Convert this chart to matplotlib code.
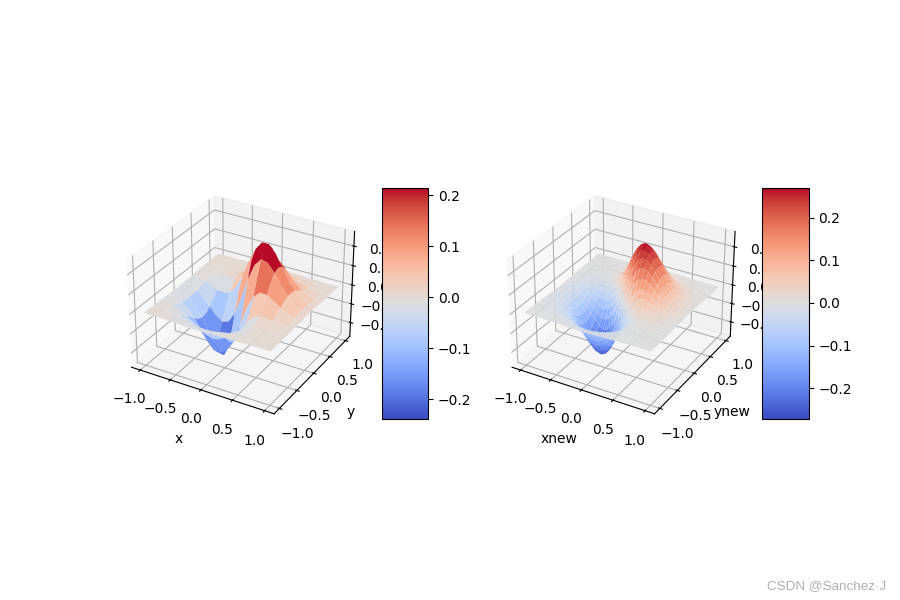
import numpy as np
import matplotlib
matplotlib.use('Agg')
import matplotlib.pyplot as plt
from matplotlib import cm

x = np.linspace(-1, 1, 20)
y = np.linspace(-1, 1, 20)
z_milli = [
    [0, 0, -1, -1, -2, -3, -5, -6, -7, -7, -6, -5, -4, -2, -1, -1, 0, 0, 0, 0],
    [0, -1, -1, -3, -5, -8, -12, -15, -17, -17, -15, -12, -8, -5, -2, -1, 0, 0, 0, 0],
    [-1, -1, -3, -6, -11, -18, -26, -33, -37, -37, -32, -25, -17, -9, -5, -2, 0, 0, 0, 0],
    [-1, -3, -6, -13, -23, -36, -51, -64, -72, -70, -60, -45, -29, -15, -7, -2, 0, 0, 0, 0],
    [-2, -5, -11, -23, -40, -64, -90, -111, -122, -117, -97, -70, -42, -20, -6, 0, 2, 2, 1, 1],
    [-3, -8, -18, -36, -64, -100, -139, -169, -181, -169, -135, -91, -48, -17, 0, 6, 7, 5, 2, 1],
    [-5, -12, -26, -51, -90, -139, -189, -227, -236, -210, -158, -94, -38, 0, 17, 20, 15, 9, 5, 2],
    [-6, -15, -33, -64, -111, -169, -227, -263, -263, -220, -147, -66, 0, 38, 48, 42, 29, 17, 8, 4],
    [-7, -17, -37, -72, -122, -181, -236, -263, -246, -183, -92, 0, 66, 94, 91, 70, 45, 25, 12, 5],
    [-7, -17, -37, -70, -117, -169, -210, -220, -183, -102, 0, 92, 147, 158, 135, 97, 60, 32, 15, 6],
    [-6, -15, -32, -60, -97, -135, -158, -147, -92, 0, 102, 183, 220, 210, 169, 117, 70, 37, 17, 7],
    [-5, -12, -25, -45, -70, -91, -94, -66, 0, 92, 183, 246, 263, 236, 181, 122, 72, 37, 17, 7],
    [-4, -8, -17, -29, -42, -48, -38, 0, 66, 147, 220, 263, 263, 227, 169, 111, 64, 33, 15, 6],
    [-2, -5, -9, -15, -20, -17, 0, 38, 94, 158, 210, 236, 227, 189, 139, 90, 51, 26, 12, 5],
    [-1, -2, -5, -7, -6, 0, 17, 48, 91, 135, 169, 181, 169, 139, 100, 64, 36, 18, 8, 3],
    [-1, -1, -2, -2, 0, 6, 20, 42, 70, 97, 117, 122, 111, 90, 64, 40, 23, 11, 5, 2],
    [0, 0, 0, 0, 2, 7, 15, 29, 45, 60, 70, 72, 64, 51, 36, 23, 13, 6, 3, 1],
    [0, 0, 0, 0, 2, 5, 9, 17, 25, 32, 37, 37, 33, 26, 18, 11, 6, 3, 1, 1],
    [0, 0, 0, 0, 1, 2, 5, 8, 12, 15, 17, 17, 15, 12, 8, 5, 3, 1, 1, 0],
    [0, 0, 0, 0, 1, 1, 2, 4, 5, 6, 7, 7, 6, 5, 3, 2, 1, 1, 0, 0],
]

xnew = np.linspace(-1, 1, 31)
ynew = np.linspace(-1, 1, 31)
znew_milli = [
    [0, 0, 0, -1, -1, -1, -2, -3, -3, -4, -5, -6, -7, -7, -7, -7, -6, -5, -4, -3, -3, -2, -1, -1, 0, 0, 0, 0, 0, 0, 0],
    [0, 0, -1, -1, -2, -2, -3, -5, -6, -8, -9, -11, -12, -13, -13, -12, -11, -9, -8, -6, -4, -3, -2, -1, -1, 0, 0, 0, 0, 0, 0],
    [0, -1, -1, -2, -3, -4, -6, -8, -10, -13, -16, -19, -20, -21, -21, -20, -18, -16, -13, -10, -7, -5, -3, -2, -1, -1, 0, 0, 0, 0, 0],
    [-1, -1, -2, -3, -4, -6, -9, -13, -17, -22, -27, -31, -33, -35, -35, -33, -29, -25, -20, -15, -11, -7, -5, -3, -1, -1, 0, 0, 0, 0, 0],
    [-1, -2, -3, -4, -7, -10, -15, -21, -28, -35, -42, -48, -52, -54, -53, -50, -44, -37, -30, -22, -16, -10, -6, -3, -2, 0, 0, 0, 0, 0, 0],
    [-1, -2, -4, -6, -10, -16, -23, -31, -41, -52, -62, -71, -77, -79, -78, -72, -64, -53, -41, -30, -21, -13, -7, -3, -1, 0, 0, 1, 0, 0, 0],
    [-2, -3, -6, -9, -15, -23, -33, -45, -59, -74, -88, -100, -108, -111, -108, -99, -86, -71, -54, -39, -25, -15, -7, -3, 0, 1, 2, 1, 1, 1, 0],
    [-3, -5, -8, -13, -21, -31, -45, -62, -81, -101, -120, -136, -145, -147, -141, -129, -110, -88, -66, -45, -28, -14, -5, 0, 3, 3, 3, 3, 2, 1, 1],
    [-3, -6, -10, -17, -28, -41, -59, -81, -106, -131, -155, -173, -184, -185, -175, -157, -131, -103, -74, -47, -26, -10, 0, 5, 7, 7, 6, 5, 3, 2, 1],
    [-4, -8, -13, -22, -35, -52, -74, -101, -131, -162, -189, -210, -221, -219, -205, -180, -147, -110, -74, -42, -17, 0, 10, 14, 15, 13, 10, 7, 5, 3, 2],
    [-5, -9, -16, -27, -42, -62, -88, -120, -155, -189, -220, -241, -250, -245, -224, -192, -150, -105, -63, -27, 0, 17, 26, 28, 25, 21, 16, 11, 7, 4, 3],
    [-6, -11, -19, -31, -48, -71, -100, -136, -173, -210, -241, -262, -268, -256, -229, -187, -137, -85, -38, 0, 27, 42, 47, 45, 39, 30, 22, 15, 10, 6, 3],
    [-7, -12, -20, -33, -52, -77, -108, -145, -184, -221, -250, -268, -268, -250, -214, -164, -107, -50, 0, 38, 63, 74, 74, 66, 54, 41, 30, 20, 13, 8, 4],
    [-7, -13, -21, -35, -54, -79, -111, -147, -185, -219, -245, -256, -250, -223, -179, -122, -60, 0, 50, 85, 105, 110, 103, 88, 71, 53, 37, 25, 16, 9, 5],
    [-7, -13, -21, -35, -53, -78, -108, -141, -175, -205, -224, -229, -214, -179, -128, -65, 0, 60, 107, 137, 150, 147, 131, 110, 86, 64, 44, 29, 18, 11, 6],
    [-7, -12, -20, -33, -50, -72, -99, -129, -157, -180, -192, -187, -164, -122, -65, 0, 65, 122, 164, 187, 192, 180, 157, 129, 99, 72, 50, 33, 20, 12, 7],
    [-6, -11, -18, -29, -44, -64, -86, -110, -131, -147, -150, -137, -107, -60, 0, 65, 128, 179, 214, 229, 224, 205, 175, 141, 108, 78, 53, 35, 21, 13, 7],
    [-5, -9, -16, -25, -37, -53, -71, -88, -103, -110, -105, -85, -50, 0, 60, 122, 179, 223, 250, 256, 245, 219, 185, 147, 111, 79, 54, 35, 21, 13, 7],
    [-4, -8, -13, -20, -30, -41, -54, -66, -74, -74, -63, -38, 0, 50, 107, 164, 214, 250, 268, 268, 250, 221, 184, 145, 108, 77, 52, 33, 20, 12, 7],
    [-3, -6, -10, -15, -22, -30, -39, -45, -47, -42, -27, 0, 38, 85, 137, 187, 229, 256, 268, 262, 241, 210, 173, 136, 100, 71, 48, 31, 19, 11, 6],
    [-3, -4, -7, -11, -16, -21, -25, -28, -26, -17, 0, 27, 63, 105, 150, 192, 224, 245, 250, 241, 220, 189, 155, 120, 88, 62, 42, 27, 16, 9, 5],
    [-2, -3, -5, -7, -10, -13, -15, -14, -10, 0, 17, 42, 74, 110, 147, 180, 205, 219, 221, 210, 189, 162, 131, 101, 74, 52, 35, 22, 13, 8, 4],
    [-1, -2, -3, -5, -6, -7, -7, -5, 0, 10, 26, 47, 74, 103, 131, 157, 175, 185, 184, 173, 155, 131, 106, 81, 59, 41, 28, 17, 10, 6, 3],
    [-1, -1, -2, -3, -3, -3, -3, 0, 5, 14, 28, 45, 66, 88, 110, 129, 141, 147, 145, 136, 120, 101, 81, 62, 45, 31, 21, 13, 8, 5, 3],
    [0, -1, -1, -1, -2, -1, 0, 3, 7, 15, 25, 39, 54, 71, 86, 99, 108, 111, 108, 100, 88, 74, 59, 45, 33, 23, 15, 9, 6, 3, 2],
    [0, 0, 0, -1, 0, 0, 1, 3, 7, 13, 21, 30, 41, 53, 64, 72, 78, 79, 77, 71, 62, 52, 41, 31, 23, 16, 10, 6, 4, 2, 1],
    [0, 0, 0, 0, 0, 0, 2, 3, 6, 10, 16, 22, 30, 37, 44, 50, 53, 54, 52, 48, 42, 35, 28, 21, 15, 10, 7, 4, 3, 2, 1],
    [0, 0, 0, 0, 0, 1, 1, 3, 5, 7, 11, 15, 20, 25, 29, 33, 35, 35, 33, 31, 27, 22, 17, 13, 9, 6, 4, 3, 2, 1, 1],
    [0, 0, 0, 0, 0, 1, 1, 2, 3, 5, 7, 10, 13, 16, 18, 20, 21, 21, 20, 19, 16, 13, 10, 8, 6, 4, 3, 2, 1, 1, 0],
    [0, 0, 0, 0, 0, 0, 1, 1, 2, 3, 4, 6, 8, 9, 11, 12, 13, 13, 12, 11, 9, 8, 6, 5, 3, 2, 2, 1, 1, 0, 0],
    [0, 0, 0, 0, 0, 0, 0, 1, 1, 2, 3, 3, 4, 5, 6, 7, 7, 7, 7, 6, 5, 4, 3, 3, 2, 1, 1, 1, 0, 0, 0],
]

# colorbar ends
left_lim = (-0.238, 0.215)
right_lim = (-0.271, 0.271)

fig = plt.figure(figsize=(9, 6), dpi=100)

# 左图
ax1 = fig.add_subplot(1, 2, 1, projection='3d')
X, Y = np.meshgrid(x, y)
surf1 = ax1.plot_surface(X, Y, np.array(z_milli) / 1000, rstride=2, cstride=2,
                         cmap=cm.coolwarm, linewidth=0.5, antialiased=True,
                         vmin=left_lim[0], vmax=left_lim[1])
ax1.set_xlabel('x')
ax1.set_ylabel('y')
fig.colorbar(surf1, shrink=0.5, aspect=5)

# 右图
ax2 = fig.add_subplot(1, 2, 2, projection='3d')
Xnew, Ynew = np.meshgrid(xnew, ynew)
surf2 = ax2.plot_surface(Xnew, Ynew, np.array(znew_milli) / 1000, rstride=1, cstride=1,
                         cmap=cm.coolwarm, linewidth=0.5, antialiased=True,
                         vmin=right_lim[0], vmax=right_lim[1])
ax2.set_xlabel('xnew')
ax2.set_ylabel('ynew')
fig.colorbar(surf2, shrink=0.5, aspect=5)

fig.text(0.985, 0.019, 'CSDN @Sanchez·J', ha='right', va='baseline',
         color='#b0b0b0', fontsize=9.7, family=['Liberation Sans', 'DejaVu Sans'])

fig.savefig('out.png', dpi=100)
